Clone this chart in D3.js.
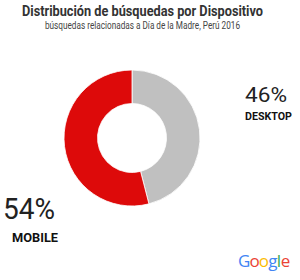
<!DOCTYPE html>
<html><head><meta charset="utf-8">
<script src="https://cdn.jsdelivr.net/npm/d3@7"></script>
<style>body{margin:0;background:#fff}svg{display:block}</style>
</head><body>
<script>
const categories = ["DESKTOP", "MOBILE"];
const values = [46, 54];
const colors = ["#c0c0c0", "#dd0a0a"];
const title = "Distribución de búsquedas por Dispositivo";
const subtitle = "búsquedas relacionadas a Día de la Madre, Perú 2016";

const svg = d3.select("body").append("svg").attr("width", 300).attr("height", 280);

svg.append("text").attr("x", 22).attr("y", 16).attr("font-family", "Roboto").attr("font-weight", "bold")
  .attr("font-size", 14.5).attr("fill", "#333").attr("textLength", 241).attr("lengthAdjust", "spacingAndGlyphs").text(title);
svg.append("text").attr("x", 45).attr("y", 29).attr("font-family", "Roboto")
  .attr("font-size", 10.5).attr("fill", "#444").attr("textLength", 195).attr("lengthAdjust", "spacingAndGlyphs").text(subtitle);

const pie = d3.pie().sort(null).value(d => d);
const arc = d3.arc().innerRadius(34.5).outerRadius(68);
const g = svg.append("g").attr("transform", "translate(132,138)");
g.selectAll("path").data(pie(values)).enter().append("path")
  .attr("d", arc).attr("fill", (d, i) => colors[i]).attr("stroke", "#fff").attr("stroke-width", 0.8);

// labels
svg.append("text").attr("x", 245).attr("y", 102).attr("font-family", "Roboto").attr("font-size", 21)
  .attr("fill", "#222").attr("textLength", 42).attr("lengthAdjust", "spacingAndGlyphs").text(values[0] + "%");
svg.append("text").attr("x", 245).attr("y", 120).attr("font-family", "Roboto").attr("font-weight", "bold").attr("font-size", 11)
  .attr("fill", "#111").attr("textLength", 47).attr("lengthAdjust", "spacingAndGlyphs").text(categories[0]);
svg.append("text").attr("x", 3).attr("y", 219).attr("font-family", "Roboto").attr("font-size", 29)
  .attr("fill", "#222").attr("textLength", 52).attr("lengthAdjust", "spacingAndGlyphs").text(values[1] + "%");
svg.append("text").attr("x", 12).attr("y", 242).attr("font-family", "Roboto").attr("font-weight", "bold").attr("font-size", 13)
  .attr("fill", "#111").attr("textLength", 46).attr("lengthAdjust", "spacingAndGlyphs").text(categories[1]);

// Google logo text, one element per coloured letter
const letters = [["G","#4285f4"],["o","#ea4335"],["o","#fbbc05"],["g","#4285f4"],["l","#34a853"],["e","#ea4335"]];
let lx = 238;
letters.forEach(([c, col]) => {
  const t = svg.append("text").attr("x", lx).attr("y", 267).attr("font-family", "Open Sans")
    .attr("font-size", 17).attr("fill", col).text(c);
  lx += t.node().getComputedTextLength() * 0.92;
});
</script>
</body></html>
